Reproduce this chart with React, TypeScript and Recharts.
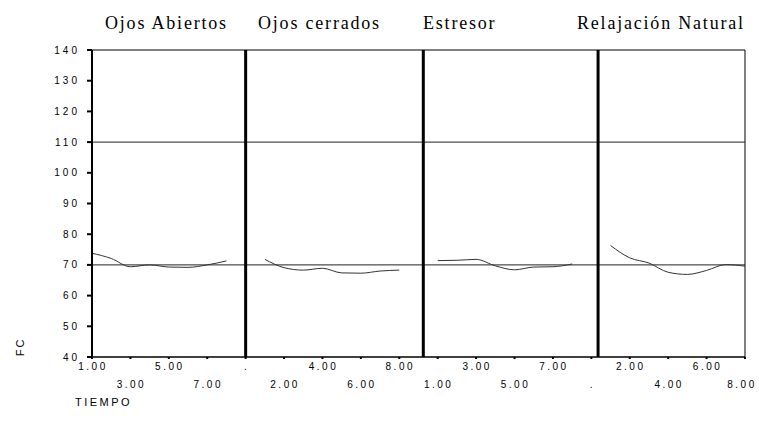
import React from 'react';
import { LineChart, Line, XAxis, YAxis, ReferenceLine, ReferenceArea } from 'recharts';

// TIEMPO, caso por caso (el "." es el valor perdido entre fases)
const etiquetasTiempo = [
    '1.00', '2.00', '3.00', '4.00', '5.00', '6.00', '7.00', '8.00', '.',
    '1.00', '2.00', '3.00', '4.00', '5.00', '6.00', '7.00', '8.00', '.',
    '1.00', '2.00', '3.00', '4.00', '5.00', '6.00', '7.00', '8.00', '.',
    '1.00', '2.00', '3.00', '4.00', '5.00', '6.00', '7.00', '8.00',
];

const fases = ['Ojos Abiertos', 'Ojos cerrados', 'Estresor', 'Relajación Natural'];
const inicioFase = [1, 10, 19, 28];

const fcOjosAbiertos = [73.8, 72.1, 69.4, 70.0, 69.3, 69.2, 70.0, 71.3];
const fcOjosCerrados = [71.8, 69.1, 68.3, 68.9, 67.4, 67.3, 68.0, 68.3];
const fcEstresor = [71.4, 71.5, 71.8, 69.7, 68.4, 69.3, 69.4, 70.3];
const fcRelajacion = [76.3, 72.3, 70.6, 67.6, 66.9, 68.2, 70.1, 69.6];

const lineasReferencia = [110, 70];
const cortesFase = [9, 18.25, 27.35];
const ticksY = [40, 50, 60, 70, 80, 90, 100, 110, 120, 130, 140];

const series = [fcOjosAbiertos, fcOjosCerrados, fcEstresor, fcRelajacion];
const claves = ['oa', 'oc', 'es', 'rn'];

const data = etiquetasTiempo.map((t, i) => {
    const caso = i + 1;
    const row: Record<string, number | string | null> = { caso, tiempo: t };
    series.forEach((s, k) => {
        const j = caso - inicioFase[k];
        row[claves[k]] = j >= 0 && j < s.length ? s[j] : null;
    });
    return row;
});

const ticksX = etiquetasTiempo.map((_, i) => i + 1).filter((c) => c % 2 === 1);
const ultimoCaso = etiquetasTiempo.length;

const sans = '"Liberation Sans", Arial, sans-serif';
const serif = '"Liberation Serif", "Times New Roman", serif';

const TickTiempo = (props: any) => {
    const { x, y, payload } = props;
    const caso = payload.value as number;
    const fila = ((caso - 1) / 2) % 2;
    // la última etiqueta queda pegada al borde: se corre un poco
    const dx = caso === ultimoCaso ? -3 : 1;
    return (
        <text
            x={x + dx}
            y={y + 2 + fila * 18}
            dy="0.71em"
            textAnchor="middle"
            fill="#000"
            style={{ fontFamily: sans, fontSize: 10, letterSpacing: 2.5 }}
        >
            {etiquetasTiempo[caso - 1]}
        </text>
    );
};

const posTitulo = [105, 258, 423, 577];

const App: React.FC = () => {
    return (
        <div style={{ position: 'fixed', left: 0, top: 0, width: 759, height: 430, background: '#fff' }}>
            <LineChart
                width={759}
                height={430}
                data={data}
                margin={{ top: 50, right: 14, bottom: 28, left: 52 }}
            >
                <ReferenceArea x1={1} x2={35} y1={40} y2={140} fill="none" stroke="#000" strokeWidth={1} />
                {lineasReferencia.map((v) => (
                    <ReferenceLine key={v} y={v} stroke="#222" strokeWidth={1} />
                ))}
                <XAxis
                    dataKey="caso"
                    type="number"
                    domain={[1, 35]}
                    ticks={ticksX}
                    interval={0}
                    height={45}
                    tickSize={2}
                    axisLine={{ stroke: '#000' }}
                    tickLine={{ stroke: '#000', strokeWidth: 2 }}
                    tick={<TickTiempo />}
                />
                <YAxis
                    domain={[40, 140]}
                    ticks={ticksY}
                    interval={0}
                    width={40}
                    tickSize={5}
                    tickMargin={7}
                    axisLine={{ stroke: '#000', strokeWidth: 2 }}
                    tickLine={{ stroke: '#000', strokeWidth: 2 }}
                    tick={{ fill: '#000', fontSize: 10, fontFamily: sans, letterSpacing: 3 }}
                />
                {cortesFase.map((c) => (
                    <ReferenceLine key={c} x={c} stroke="#000" strokeWidth={3} />
                ))}
                {claves.map((k) => (
                    <Line
                        key={k}
                        type="monotone"
                        dataKey={k}
                        stroke="#333"
                        strokeWidth={1}
                        dot={false}
                        connectNulls={false}
                        isAnimationActive={false}
                    />
                ))}
            </LineChart>
            {fases.map((f, i) => (
                <div
                    key={f}
                    style={{
                        position: 'absolute',
                        left: posTitulo[i],
                        top: 14,
                        fontFamily: serif,
                        fontSize: 18,
                        lineHeight: '18px',
                        letterSpacing: 1.8,
                        whiteSpace: 'nowrap',
                        color: '#000',
                    }}
                >
                    {f}
                </div>
            ))}
            <div
                style={{
                    position: 'absolute',
                    left: 20,
                    top: 347,
                    transform: 'translate(-50%, -50%) rotate(-90deg)',
                    fontFamily: sans,
                    fontSize: 11,
                    letterSpacing: 2,
                    whiteSpace: 'nowrap',
                }}
            >
                FC
            </div>
            <div
                style={{
                    position: 'absolute',
                    left: 75,
                    top: 397,
                    fontFamily: sans,
                    fontSize: 11,
                    lineHeight: '11px',
                    letterSpacing: 2.5,
                    whiteSpace: 'nowrap',
                }}
            >
                TIEMPO
            </div>
        </div>
    );
};

export default App;
